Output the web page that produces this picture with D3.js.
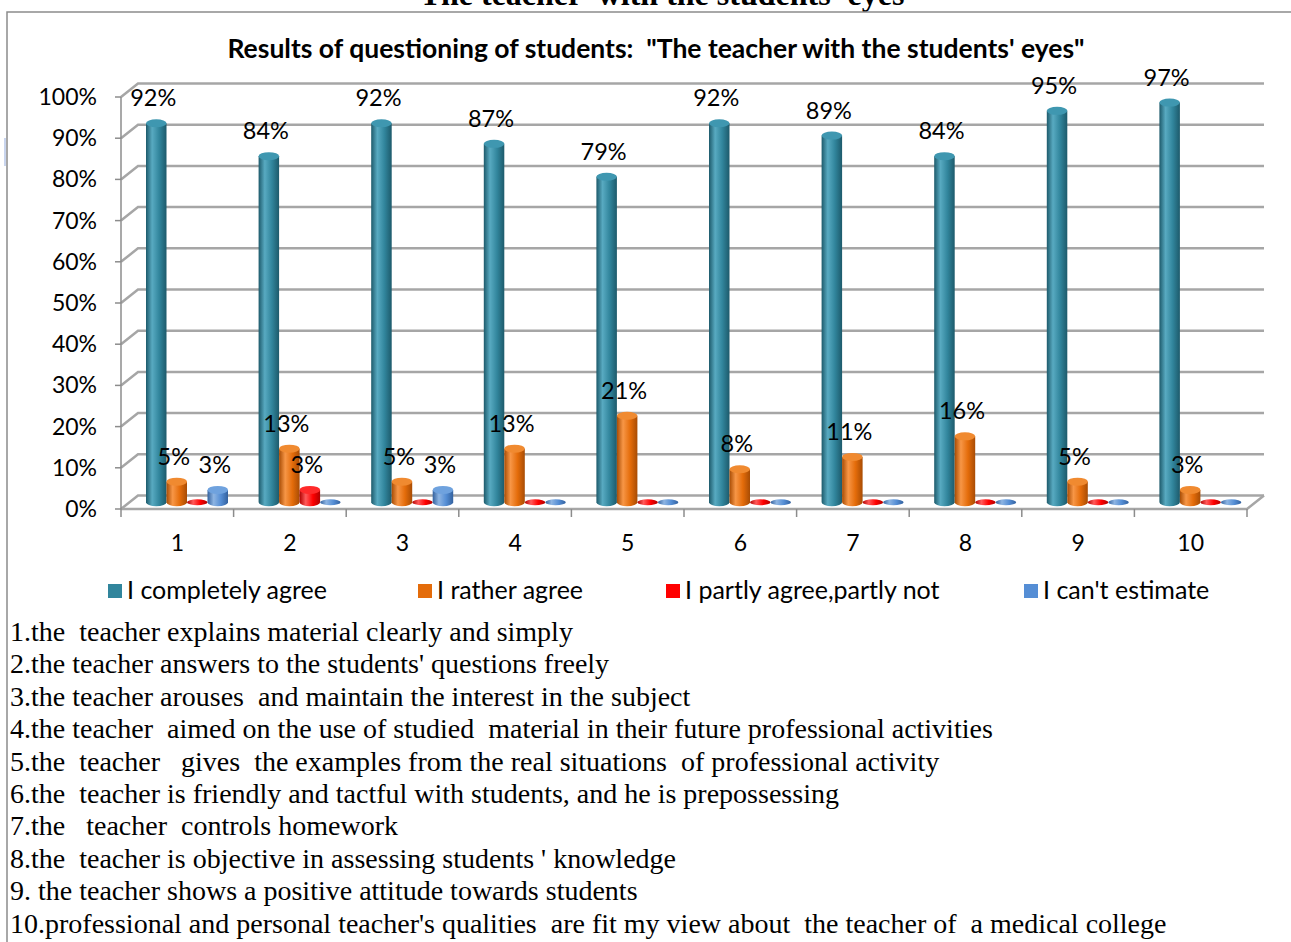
<!DOCTYPE html>
<html>
<head>
<meta charset="utf-8">
<script src="https://cdn.jsdelivr.net/npm/d3@7"></script>
<style>
  html, body { margin: 0; padding: 0; background: #fff; }
  svg text { white-space: pre; }
</style>
</head>
<body>
<svg id="chart" width="1291" height="942"></svg>
<script>
// question numbers on the x axis
var categories = ['1', '2', '3', '4', '5', '6', '7', '8', '9', '10'];
var seriesNames = ['I completely agree', 'I rather agree', 'I partly agree,partly not', "I can't estimate"];
var completelyAgree = [92, 84, 92, 87, 79, 92, 89, 84, 95, 97];
var ratherAgree = [5, 13, 5, 13, 21, 8, 11, 16, 5, 3];
var partlyAgree = [0, 3, 0, 0, 0, 0, 0, 0, 0, 0];
var cantEstimate = [3, 0, 3, 0, 0, 0, 0, 0, 0, 0];
var yTicks = [0, 10, 20, 30, 40, 50, 60, 70, 80, 90, 100];
var notes = [
  '1.the  teacher explains material clearly and simply',
  "2.the teacher answers to the students' questions freely",
  '3.the teacher arouses  and maintain the interest in the subject',
  '4.the teacher  aimed on the use of studied  material in their future professional activities',
  '5.the  teacher   gives  the examples from the real situations  of professional activity',
  '6.the  teacher is friendly and tactful with students, and he is prepossessing',
  '7.the   teacher  controls homework',
  "8.the  teacher is objective in assessing students ' knowledge",
  '9. the teacher shows a positive attitude towards students',
  "10.professional and personal teacher's qualities  are fit my view about  the teacher of  a medical college"
];

var colors = [
  {base: '#31859c', dark: '#1d5a6b', light: '#58aac1', top: '#3f97b0'},
  {base: '#e46c0a', dark: '#a84c04', light: '#f79646', top: '#f08a30'},
  {base: '#ff0000', dark: '#b00000', light: '#ff5a5a', top: '#ff2a2a'},
  {base: '#558ed5', dark: '#33619e', light: '#8db4e2', top: '#6fa2de'}
];

var values = [completelyAgree, ratherAgree, partlyAgree, cantEstimate];

var svg = d3.select('#chart');
var font = 'Lato, "Open Sans", sans-serif';
var serif = '"Liberation Serif", "Times New Roman", serif';

// 3D depth offsets (front plane -> back wall)
var depth = {dx: 17, dy: -13.5};
var mid = {dx: depth.dx / 2, dy: depth.dy / 2};

var x = d3.scaleBand().domain(categories).range([121, 1247]);
var y = d3.scaleLinear().domain([0, 100]).range([509, 97]);
var xs = d3.scaleBand().domain(d3.range(4)).range([16.5, 98.5]);

// outer frame (page heading is cut by the top edge, as in the source)
svg.append('text')
  .attr('x', 662).attr('y', 5)
  .attr('text-anchor', 'middle')
  .attr('font-family', serif)
  .attr('font-weight', 'bold')
  .attr('font-size', 32)
  .text("The teacher  with the students' eyes");

svg.append('path')
  .attr('d', 'M7,942 L7,12 L1291,12')
  .attr('fill', 'none')
  .attr('stroke', '#8c8c8c')
  .attr('stroke-width', 1.5);
svg.append('rect')
  .attr('x', 4).attr('y', 138).attr('width', 2).attr('height', 28)
  .attr('fill', '#c9d5ee');

// chart title
svg.append('text')
  .attr('x', 656).attr('y', 58)
  .attr('text-anchor', 'middle')
  .attr('font-family', font)
  .attr('font-weight', 'bold')
  .attr('font-size', 26.5)
  .text('Results of questioning of students:  "The teacher with the students\' eyes"');

var defs = svg.append('defs');
colors.forEach(function(c, i) {
  var g = defs.append('linearGradient').attr('id', 'cyl' + i)
    .attr('x1', 0).attr('x2', 1).attr('y1', 0).attr('y2', 0);
  g.append('stop').attr('offset', '0%').attr('stop-color', c.dark);
  g.append('stop').attr('offset', '30%').attr('stop-color', c.light);
  g.append('stop').attr('offset', '65%').attr('stop-color', c.base);
  g.append('stop').attr('offset', '100%').attr('stop-color', c.dark);
});

var grid = svg.append('g').attr('fill', 'none').attr('stroke', '#a6a6a6').attr('stroke-width', 2.5);

// back wall gridlines + left wall diagonals
yTicks.forEach(function(t) {
  var yf = y(t);
  grid.append('path')
    .attr('d', 'M' + 121 + ',' + yf + ' L' + (121 + depth.dx) + ',' + (yf + depth.dy) +
      ' L' + (1247 + depth.dx) + ',' + (yf + depth.dy));
});
// floor front edge and right diagonal
grid.append('path')
  .attr('d', 'M121,' + y(0) + ' L1247,' + y(0) + ' L' + (1247 + depth.dx) + ',' + (y(0) + depth.dy));

// left axis line and ticks
var axis = svg.append('g').attr('stroke', '#8c8c8c').attr('stroke-width', 1.5).attr('fill', 'none');
axis.append('line').attr('x1', 121).attr('x2', 121).attr('y1', y(100)).attr('y2', y(0));
yTicks.forEach(function(t) {
  axis.append('line').attr('x1', 115).attr('x2', 121).attr('y1', y(t)).attr('y2', y(t));
});
// bottom ticks
categories.concat(['end']).forEach(function(c, i) {
  var xx = 121 + i * x.step();
  axis.append('line').attr('x1', xx).attr('x2', xx).attr('y1', y(0)).attr('y2', y(0) + 8);
});

// y labels
svg.append('g').selectAll('text').data(yTicks).join('text')
  .attr('x', 97).attr('y', function(d) { return y(d) + 8; })
  .attr('text-anchor', 'end')
  .attr('font-family', font).attr('font-size', 23)
  .text(function(d) { return d + '%'; });

// x labels
svg.append('g').selectAll('text').data(categories).join('text')
  .attr('x', function(d) { return x(d) + x.bandwidth() / 2; })
  .attr('y', 551)
  .attr('text-anchor', 'middle')
  .attr('font-family', font).attr('font-size', 23)
  .text(function(d) { return d; });

// cylinders
var bars = [];
categories.forEach(function(c, ci) {
  values.forEach(function(arr, si) {
    bars.push({cat: c, s: si, v: arr[ci]});
  });
});

var ry = 4;
var barG = svg.append('g');
bars.forEach(function(b) {
  var x0 = x(b.cat) + mid.dx + xs(b.s);
  var w = xs.bandwidth();
  var rx = w / 2;
  var base = y(0) + mid.dy;
  var top = y(b.v) + mid.dy;
  var c = colors[b.s];
  if (b.v > 0) {
    barG.append('path')
      .attr('d', 'M' + x0 + ',' + top + ' L' + x0 + ',' + base +
        ' A' + rx + ',' + ry + ' 0 0 0 ' + (x0 + w) + ',' + base +
        ' L' + (x0 + w) + ',' + top + ' Z')
      .attr('fill', 'url(#cyl' + b.s + ')');
    barG.append('ellipse')
      .attr('cx', x0 + rx).attr('cy', top).attr('rx', rx).attr('ry', ry)
      .attr('fill', c.top);
    barG.append('text')
      .attr('x', x0 + rx - 3).attr('y', top - 17)
      .attr('text-anchor', 'middle')
      .attr('font-family', font).attr('font-size', 23.5)
      .text(b.v + '%');
  } else {
    barG.append('ellipse')
      .attr('cx', x0 + rx).attr('cy', base).attr('rx', rx).attr('ry', 3)
      .attr('fill', 'url(#cyl' + b.s + ')');
  }
});

// legend
var legendX = [108, 418, 666, 1024];
var legend = svg.append('g').selectAll('g').data(seriesNames).join('g')
  .attr('transform', function(d, i) { return 'translate(' + legendX[i] + ',584)'; });
legend.append('rect').attr('width', 14).attr('height', 14)
  .attr('fill', function(d, i) { return colors[i].base; });
legend.append('text').attr('x', 19).attr('y', 15)
  .attr('font-family', font).attr('font-size', 25)
  .text(function(d) { return d; });

// footnotes
svg.append('g').selectAll('text').data(notes).join('text')
  .attr('x', 10)
  .attr('y', function(d, i) { return 641 + i * 32.4; })
  .attr('font-family', serif)
  .attr('font-size', 28)
  .text(function(d) { return d; });
</script>
</body>
</html>
